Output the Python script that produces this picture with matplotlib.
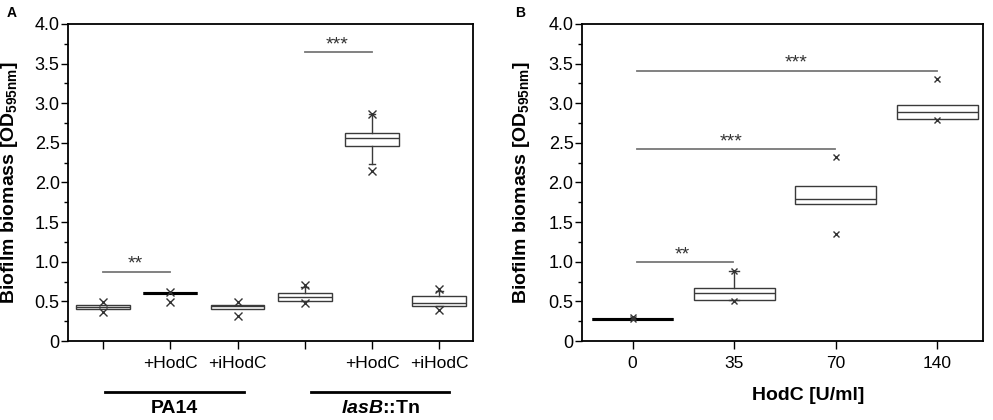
import matplotlib
matplotlib.use("Agg")
import matplotlib.pyplot as plt
from matplotlib.ticker import MultipleLocator, FuncFormatter
import matplotlib.transforms as mtransforms

plt.rcParams['font.family'] = ['Liberation Sans', 'DejaVu Sans']
plt.rcParams['mathtext.fontset'] = 'custom'
plt.rcParams['mathtext.rm'] = 'Liberation Sans'
plt.rcParams['mathtext.bf'] = 'Liberation Sans:bold'
plt.rcParams['mathtext.it'] = 'Liberation Sans:italic:bold'

# ---------------- Panel A data ----------------
a_pos = [1, 2, 3, 4, 5, 6]
a_labels = ['', '+HodC', '+iHodC', '', '+HodC', '+iHodC']
a_q1 = [0.40, 0.60, 0.40, 0.51, 2.46, 0.44]
a_med = [0.435, 0.60, 0.445, 0.56, 2.555, 0.476]
a_q3 = [0.46, 0.60, 0.46, 0.60, 2.63, 0.568]
a_wlo = [0.40, 0.60, 0.40, 0.51, 2.227, 0.44]
a_whi = [0.46, 0.60, 0.46, 0.68, 2.86, 0.63]
a_fliers = [[0.49, 0.37], [0.62, 0.49], [0.49, 0.31], [0.707, 0.476], [2.86, 2.14], [0.652, 0.39]]
a_groups = ['PA14', r'$\mathit{lasB}$::Tn']
a_sig = [(1, 2, 0.876, '**', 1.48), (4, 5, 3.64, '***', 4.48)]

# ---------------- Panel B data ----------------
b_pos = [0, 1, 2, 3]
b_labels = ['0', '35', '70', '140']
b_q1 = [0.275, 0.522, 1.726, 2.796]
b_med = [0.275, 0.61, 1.79, 2.89]
b_q3 = [0.275, 0.674, 1.954, 2.973]
b_wlo = [0.275, 0.522, 1.726, 2.796]
b_whi = [0.275, 0.884, 1.954, 2.973]
b_fliers = [[0.30, 0.28], [0.884, 0.50], [2.316, 1.356], [3.305, 2.79]]
b_sig = [(0.04, 0.99, 0.994, '**', 0.49), (0.04, 1.99, 2.42, '***', 0.97), (0.04, 3.0, 3.41, '***', 1.61)]

ylabel = r'Biofilm biomass [OD$_{\mathbf{595nm}}$]'

fig = plt.figure(figsize=(9.93, 4.2), dpi=100)
axA = fig.add_axes([0.0685, 0.188, 0.4078, 0.755])
axB = fig.add_axes([0.586, 0.188, 0.404, 0.755])

edge = '#3a3a3a'


def draw_boxes(ax, pos, q1, med, q3, wlo, whi, fliers, ms):
    for i in range(len(pos)):
        st = dict(q1=q1[i], med=med[i], q3=q3[i], whislo=wlo[i],
                  whishi=whi[i], fliers=fliers[i])
        flat = q3[i] - q1[i] < 1e-9
        lw = 2.2 if flat else 1.0
        col = 'black' if flat else edge
        has_whisk = (whi[i] > q3[i]) or (wlo[i] < q1[i])
        ax.bxp([st], positions=[pos[i]], widths=0.8, patch_artist=True, manage_ticks=False,
               showcaps=has_whisk,
               boxprops=dict(facecolor='white', edgecolor=col, linewidth=lw),
               medianprops=dict(color=col, linewidth=lw),
               whiskerprops=dict(color=edge, linewidth=1.0),
               capprops=dict(color=edge, linewidth=1.0),
               capwidths=0.1,
               flierprops=dict(marker='x', markeredgecolor='#333333', markersize=ms,
                               markeredgewidth=1.0, linestyle='none', zorder=5))


def style_axis(ax):
    ax.set_ylim(0, 4)
    ax.yaxis.set_major_locator(MultipleLocator(0.5))
    ax.yaxis.set_minor_locator(MultipleLocator(0.25))
    ax.yaxis.set_major_formatter(FuncFormatter(lambda v, p: '0' if v == 0 else f'{v:.1f}'))
    ax.tick_params(axis='y', which='major', direction='out', length=5, width=1, pad=1, labelsize=13)
    ax.tick_params(axis='y', which='minor', direction='out', length=3, width=1)
    ax.tick_params(axis='x', which='major', direction='out', length=6, width=1, pad=5, labelsize=12.5)
    for s in ax.spines.values():
        s.set_linewidth(1.3)
        s.set_color('black')
    ax.set_ylabel(ylabel, fontsize=14, fontweight='bold')


def draw_sig(ax, sig):
    for x0, x1, y, txt, xt in sig:
        ax.plot([x0, x1], [y, y], color='#777777', linewidth=1.3)
        ax.annotate(txt, xy=(xt, y), xytext=(0, 2.0), textcoords='offset points',
                    ha='center', va='baseline', fontsize=14, color='#333333')


# Panel A
draw_boxes(axA, a_pos, a_q1, a_med, a_q3, a_wlo, a_whi, a_fliers, 6)
axA.set_xlim(0.48, 6.5)
axA.set_xticks(a_pos)
axA.set_xticklabels(a_labels)
style_axis(axA)
axA.yaxis.set_label_coords(-0.118, 0.5)
draw_sig(axA, a_sig)
trA = mtransforms.blended_transform_factory(axA.transData, axA.transAxes)
group_spans = [(1.03, 3.09), (4.09, 6.15)]
for (g0, g1), name in zip(group_spans, a_groups):
    axA.plot([g0, g1], [-0.161, -0.161], color='black', linewidth=2, transform=trA, clip_on=False)
    axA.text((g0 + g1) / 2, -0.213, name, transform=trA, ha='center', va='center',
             fontsize=14, fontweight='bold')

# Panel B
draw_boxes(axB, b_pos, b_q1, b_med, b_q3, b_wlo, b_whi, b_fliers, 4)
axB.set_xlim(-0.5, 3.45)
axB.set_xticks(b_pos)
axB.set_xticklabels(b_labels)
style_axis(axB)
axB.yaxis.set_label_coords(-0.125, 0.5)
draw_sig(axB, b_sig)
axB.text(0.564, -0.173, 'HodC [U/ml]', transform=axB.transAxes, ha='center', va='center',
         fontsize=14, fontweight='bold')

fig.text(12 / 993, 1 - 13 / 420, 'A', ha='center', va='center', fontsize=10, fontweight='bold')
fig.text(520 / 993, 1 - 13 / 420, 'B', ha='center', va='center', fontsize=10, fontweight='bold')

fig.savefig('out.png', dpi=100)
